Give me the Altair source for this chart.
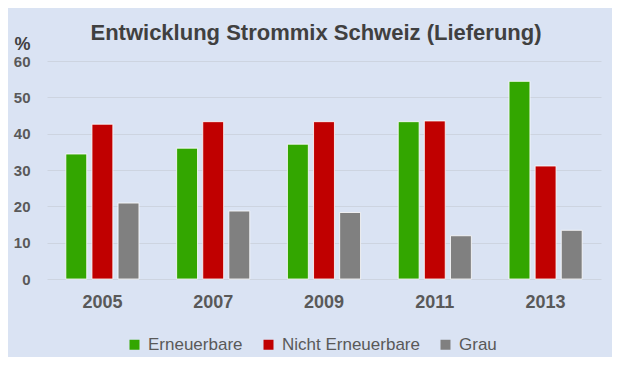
import altair as alt
import pandas as pd

years = ["2005", "2007", "2009", "2011", "2013"]
series = ["Erneuerbare", "Nicht Erneuerbare", "Grau"]
erneuerbare = [34.4, 36.0, 37.1, 43.3, 54.4]
nicht_erneuerbare = [42.6, 43.3, 43.3, 43.5, 31.1]
grau = [20.9, 18.7, 18.3, 11.9, 13.4]
colors = ["#33A600", "#C00000", "#808080"]
y_ticks = [0, 10, 20, 30, 40, 50, 60]

rows = []
for name, vals in zip(series, [erneuerbare, nicht_erneuerbare, grau]):
    for yr, v in zip(years, vals):
        rows.append({"Jahr": yr, "Serie": name, "Wert": v})
df = pd.DataFrame(rows)

FONT = "Liberation Sans"

chart = alt.Chart(df).mark_bar(stroke="#FFFFFF", strokeWidth=1, strokeOpacity=0.8).encode(
    x=alt.X("Jahr:N", sort=years,
            scale=alt.Scale(paddingInner=0.34, paddingOuter=0.17),
            axis=alt.Axis(title=None, labelAngle=0, labelFontSize=18, labelFont=FONT,
                          labelFontWeight="bold", labelColor="#595959", labelPadding=14,
                          domain=False, ticks=False, grid=False)),
    xOffset=alt.XOffset("Serie:N", sort=series,
                        scale=alt.Scale(paddingInner=0.2, paddingOuter=0)),
    y=alt.Y("Wert:Q", scale=alt.Scale(domain=[0, 60], nice=False),
            axis=alt.Axis(values=y_ticks, title="%", titleAngle=0, titleX=-33, titleY=-12,
                          titleAlign="left", titleBaseline="alphabetic", titleFontSize=18,
                          titleFont=FONT, titleFontWeight="bold", titleColor="#404040",
                          labelFontSize=15, labelFont=FONT, labelFontWeight="bold",
                          labelColor="#595959", labelPadding=17,
                          domain=False, ticks=False, gridColor="#CDD4E0", gridWidth=1)),
    color=alt.Color("Serie:N", sort=series,
                    scale=alt.Scale(domain=series, range=colors),
                    legend=alt.Legend(title=None, orient="none", legendX=79, legendY=275,
                                      direction="horizontal", symbolType="square",
                                      symbolSize=100, symbolStrokeWidth=0,
                                      labelFontSize=17, labelFont=FONT, labelColor="#595959",
                                      columnPadding=17, labelOffset=5, padding=0)),
).properties(
    width=554,
    height=218,
    title=alt.TitleParams("Entwicklung Strommix Schweiz (Lieferung)", anchor="middle",
                          fontSize=22, font=FONT, fontWeight="bold", color="#404040",
                          dx=-8, dy=18, offset=8),
    autosize=alt.AutoSizeParams(type="none"),
    padding={"left": 39, "top": 53, "right": 11, "bottom": 78},
    background="#DAE3F3",
).configure_view(stroke=None)

chart.save("out.html", embed_options={"renderer": "svg", "actions": False})
